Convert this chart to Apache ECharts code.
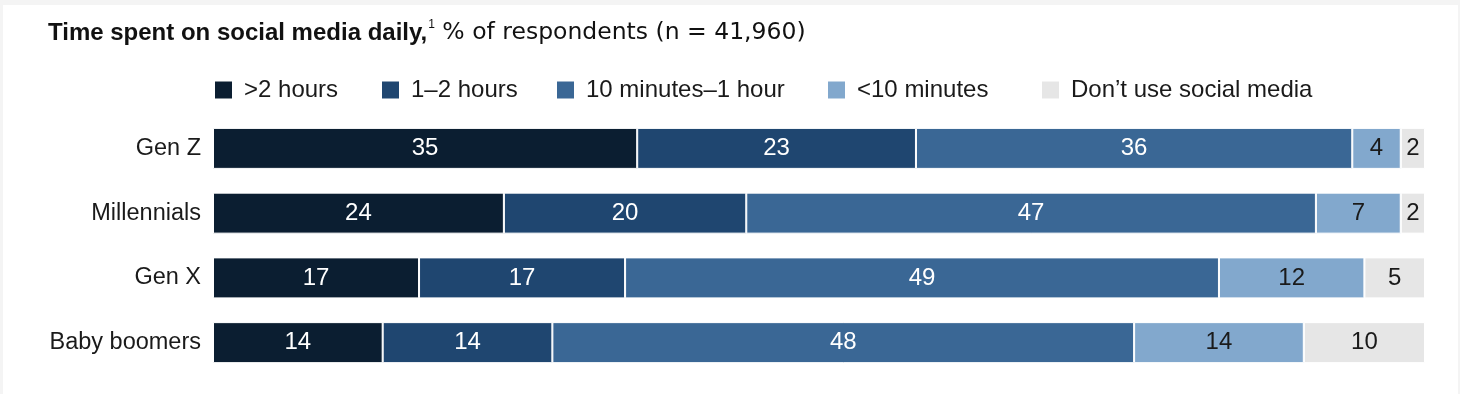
<!DOCTYPE html>
<html>
<head>
<meta charset="utf-8">
<script src="https://cdn.jsdelivr.net/npm/echarts@6/dist/echarts.min.js"></script>
<style>
html,body{margin:0;padding:0;background:#fff;}
#chart{width:1460px;height:394px;}
</style>
</head>
<body>
<div id="chart"></div>
<script>
const categories = ['Gen Z', 'Millennials', 'Gen X', 'Baby boomers'];
const seriesNames = ['>2 hours', '1\u20132 hours', '10 minutes\u20131 hour', '<10 minutes', 'Don\u2019t use social media'];
const over2h = [35, 24, 17, 14];
const oneTo2h = [23, 20, 17, 14];
const tenMinTo1h = [36, 47, 49, 48];
const under10m = [4, 7, 12, 14];
const dontUse = [2, 2, 5, 10];

const values = [over2h, oneTo2h, tenMinTo1h, under10m, dontUse];
const colors = ['#0b1e31', '#1f4670', '#3a6795', '#82a8cd', '#e6e6e6'];
const labelColors = ['#ffffff', '#ffffff', '#ffffff', '#1a1a1a', '#1a1a1a'];
const legendLefts = [213, 380, 555, 826, 1040];

const FONT = 'Liberation Sans, Arial, sans-serif';

const chart = echarts.init(document.getElementById('chart'), null, {renderer: 'canvas'});

const series = seriesNames.map((name, i) => ({
  name: name,
  type: 'bar',
  stack: 'total',
  barWidth: 41,
  data: values[i],
  itemStyle: {color: colors[i], borderColor: '#ffffff', borderWidth: 1},
  label: {
    show: true,
    position: 'inside',
    color: labelColors[i],
    fontFamily: FONT,
    fontSize: 24,
    formatter: p => String(p.value)
  },
  emphasis: {disabled: true},
  animation: false
}));

const legends = seriesNames.map((name, i) => ({
  data: [name],
  left: legendLefts[i],
  top: 78,
  padding: 0,
  itemWidth: 19,
  itemHeight: 19,
  icon: 'rect',
  selectedMode: false,
  textStyle: {fontFamily: FONT, fontSize: 24, color: '#1a1a1a', padding: [0, 0, 0, 6]}
}));

chart.setOption({
  backgroundColor: '#ffffff',
  animation: false,
  title: {
    left: 48,
    top: 19,
    padding: 0,
    text: '{b|Time spent on social media daily,}{s|1}{r| % of respondents (n = 41,960)}',
    textStyle: {
      fontWeight: 'normal',
      rich: {
        b: {fontFamily: FONT, fontWeight: 'bold', fontSize: 24, color: '#111111', lineHeight: 28},
        s: {fontFamily: FONT, fontWeight: 'normal', fontSize: 12, color: '#111111', verticalAlign: 'top', lineHeight: 28, padding: [0, 0, 12, 1]},
        r: {fontFamily: 'DejaVu Sans, sans-serif', fontWeight: 'normal', fontSize: 23.5, color: '#111111', lineHeight: 28}
      }
    }
  },
  legend: legends,
  grid: {left: 213, right: 35, top: 116, bottom: 19, containLabel: false},
  xAxis: {type: 'value', min: 0, max: 100, show: false},
  yAxis: {
    type: 'category',
    data: categories,
    inverse: true,
    axisLine: {show: false},
    axisTick: {show: false},
    axisLabel: {fontFamily: FONT, fontSize: 23.5, color: '#1a1a1a', margin: 12}
  },
  graphic: [
    {type: 'rect', shape: {x: 0, y: 0, width: 1460, height: 5}, style: {fill: '#f4f4f4'}, z: -10, silent: true},
    {type: 'rect', shape: {x: 0, y: 0, width: 3, height: 394}, style: {fill: '#f4f4f4'}, z: -10, silent: true},
    {type: 'rect', shape: {x: 1458, y: 0, width: 2, height: 394}, style: {fill: '#f4f4f4'}, z: -10, silent: true}
  ],
  series: series
});
</script>
</body>
</html>
